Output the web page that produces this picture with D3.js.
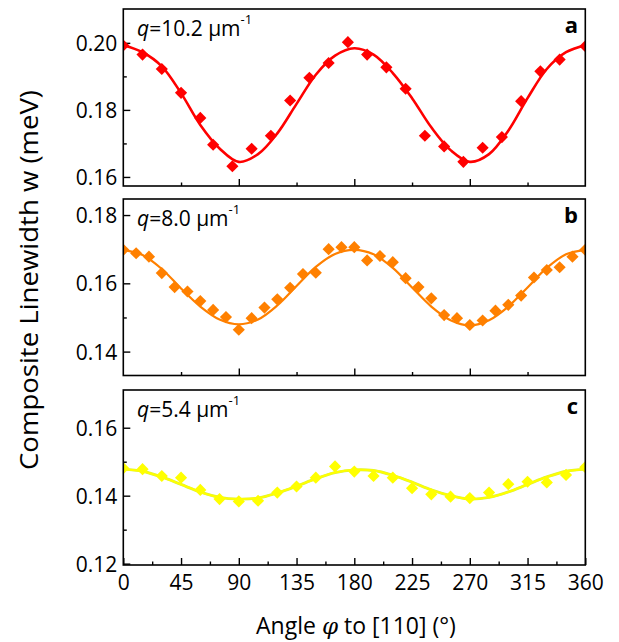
<!DOCTYPE html>
<html><head><meta charset="utf-8">
<script src="https://cdn.jsdelivr.net/npm/d3@7"></script>
<style>body{margin:0;background:#fff} text{font-family:"Open Sans",sans-serif;fill:#000}</style>
</head><body><svg id="chart" width="619" height="642"></svg>
<script>
// ---- data ----
const angleA = [0,15,30,45,60,70,85,100,115,130,145,160,175,190,205,220,235,250,265,280,295,310,325,340,360];
const widthA = [0.1992,0.1965,0.1922,0.1851,0.1776,0.1696,0.1632,0.1684,0.1723,0.1828,0.1896,0.1940,0.2002,0.1965,0.1927,0.1863,0.1723,0.1691,0.1645,0.1687,0.1719,0.1826,0.1915,0.1950,0.1990];

const angleB = [0,10,20,30,40,50,60,70,80,90,100,110,120,130,140,150,160,170,180,190,200,210,220,230,240,250,260,270,280,290,300,310,320,330,340,350,360];
const widthB = [0.1698,0.1688,0.1678,0.1630,0.1589,0.1576,0.1548,0.1522,0.1501,0.1464,0.1498,0.1529,0.1553,0.1587,0.1627,0.1631,0.1700,0.1706,0.1706,0.1667,0.1680,0.1662,0.1615,0.1589,0.1556,0.1507,0.1498,0.1478,0.1491,0.1520,0.1537,0.1564,0.1617,0.1639,0.1647,0.1678,0.1698];

const angleC = [0,15,30,45,60,75,90,105,120,135,150,165,180,195,210,225,240,255,270,285,300,315,330,345,360];
const widthC = [0.1481,0.1478,0.1458,0.1453,0.1417,0.1390,0.1383,0.1385,0.1409,0.1427,0.1453,0.1486,0.1471,0.1458,0.1453,0.1422,0.1404,0.1397,0.1393,0.1409,0.1434,0.1441,0.1439,0.1461,0.1484];

// fit curves
const fitAngle = [0,15,30,45,60,75,90,105,120,135,150,165,180,195,210,225,240,255,270,285,300,315,330,345,360];
const fitA = [0.1993,0.1972,0.1930,0.1850,0.1755,0.1685,0.1645,0.1668,0.1730,0.1818,0.1905,0.1962,0.1984,0.1965,0.1910,0.1835,0.1748,0.1680,0.1645,0.1668,0.1738,0.1835,0.1922,0.1972,0.1993];
const fitB = [0.1698,0.1683,0.1642,0.1585,0.1532,0.1494,0.1480,0.1494,0.1535,0.1592,0.1648,0.1686,0.1698,0.1685,0.1645,0.1588,0.1532,0.1492,0.1477,0.1492,0.1532,0.1588,0.1645,0.1685,0.1698];
const fitC = [0.1478,0.1472,0.1455,0.1433,0.1411,0.1395,0.1390,0.1393,0.1408,0.1428,0.1450,0.1468,0.1476,0.1474,0.1460,0.1440,0.1417,0.1400,0.1390,0.1395,0.1411,0.1433,0.1455,0.1472,0.1478];

const xTicksMajorAB = [90,180,270];
const xTicksMinorAB = [45,135,225,315];
const xTicksMajorC = [0,45,90,135,180,225,270,315,360];
const xTicksMinorC = [22.5,67.5,112.5,157.5,202.5,247.5,292.5,337.5];

const yTicksA = [0.16,0.18,0.20], yMinorA = [0.17,0.19];
const yTicksB = [0.14,0.16,0.18], yMinorB = [0.15,0.17];
const yTicksC = [0.12,0.14,0.16], yMinorC = [0.13,0.15];

const qLabels = ["10.2","8.0","5.4"];
const panelLetters = ["a","b","c"];

// ---- drawing ----
const svg = d3.select("#chart");
const X0 = 123.3, X1 = 585.3;
const x = d3.scaleLinear().domain([0,360]).range([X0,X1]);

const panels = [
  {ang:angleA, val:widthA, fit:fitA, color:"#ff0000", top:9, bot:186, dom:[0.1573,0.2101], yt:yTicksA, ym:yMinorA, xt:xTicksMajorAB, xm:xTicksMinorAB, lab:false},
  {ang:angleB, val:widthB, fit:fitB, color:"#ff8000", top:199, bot:375.5, dom:[0.1330,0.1847], yt:yTicksB, ym:yMinorB, xt:xTicksMajorAB, xm:xTicksMinorAB, lab:false},
  {ang:angleC, val:widthC, fit:fitC, color:"#ffff00", top:390, bot:565, dom:[0.1196,0.1711], yt:yTicksC, ym:yMinorC, xt:xTicksMajorC, xm:xTicksMinorC, lab:true}
];

panels.forEach((p,i)=>{
  const y = d3.scaleLinear().domain(p.dom).range([p.bot,p.top]);
  const g = svg.append("g");
  const cid = "clip"+i;
  svg.append("clipPath").attr("id",cid).append("rect")
    .attr("x",X0).attr("y",p.top).attr("width",X1-X0).attr("height",p.bot-p.top);

  // axes
  const xa = d3.axisBottom(x).tickValues(p.xt).tickSizeInner(-7).tickSizeOuter(0).tickPadding(10)
    .tickFormat(p.lab ? d3.format("d") : "");
  const xg = g.append("g").attr("transform",`translate(0,${p.bot})`).call(xa);
  const xma = d3.axisBottom(x).tickValues(p.xm).tickSizeInner(-3.5).tickSizeOuter(0).tickFormat("");
  const xmg = g.append("g").attr("transform",`translate(0,${p.bot})`).call(xma);
  const ya = d3.axisLeft(y).tickValues(p.yt).tickSizeInner(-7).tickSizeOuter(0).tickPadding(6)
    .tickFormat(d3.format(".2f"));
  const yg = g.append("g").attr("transform",`translate(${X0},0)`).call(ya);
  const yma = d3.axisLeft(y).tickValues(p.ym).tickSizeInner(-3.5).tickSizeOuter(0).tickFormat("");
  const ymg = g.append("g").attr("transform",`translate(${X0},0)`).call(yma);
  [xg,xmg,yg,ymg].forEach(a=>{
    a.select(".domain").remove();
    a.selectAll("line").attr("stroke","#000").attr("stroke-width",1.4);
    a.selectAll("text").style("font-size","21px").style("font-family","'Open Sans',sans-serif");
  });
  yg.selectAll("text").attr("dy","0.36em");

  // fit line
  const line = d3.line().x((d,k)=>x(fitAngle[k])).y(d=>y(d)).curve(d3.curveCatmullRom);
  const plot = g.append("g").attr("clip-path",`url(#${cid})`);
  if (i===2) {
    plot.append("path").datum(p.fit).attr("d",line).attr("fill","none")
      .attr("stroke","#d8f040").attr("stroke-width",2.9);
    plot.append("path").datum(p.fit).attr("d",line).attr("fill","none")
      .attr("stroke","#ffff00").attr("stroke-width",2.0);
  } else {
    plot.append("path").datum(p.fit).attr("d",line).attr("fill","none")
      .attr("stroke",p.color).attr("stroke-width",i===0?2.6:2.2);
  }

  // points
  const sym = d3.symbol().type(d3.symbolSquare).size(74);
  plot.selectAll("path.pt").data(p.val).enter().append("path").attr("class","pt")
    .attr("d",sym)
    .attr("transform",(d,k)=>`translate(${x(p.ang[k])},${y(d)}) rotate(45)`)
    .attr("fill",p.color);

  // frame
  g.append("rect").attr("x",X0).attr("y",p.top).attr("width",X1-X0).attr("height",p.bot-p.top)
    .attr("fill","none").attr("stroke","#000").attr("stroke-width",1.6);

  // q label
  const t = g.append("text").attr("x",137).attr("y",p.top+27).style("font-size","21px");
  t.append("tspan").text("q").style("font-style","italic");
  t.append("tspan").text("=" + qLabels[i] + " \u03bcm");
  t.append("tspan").text("-1").style("font-size","13px").attr("dy","-12");

  // panel letter
  g.append("text").attr("x",578).attr("y",p.top+24).attr("text-anchor","end")
    .style("font-size","22px").style("font-weight","bold").text(panelLetters[i]);
});

// axis titles
const xt = svg.append("text").attr("x",356).attr("y",634).attr("text-anchor","middle").style("font-size","23px");
xt.append("tspan").text("Angle ");
xt.append("tspan").text("\u03c6").style("font-style","italic").style("font-family","'DejaVu Serif',serif");
xt.append("tspan").text("  to [110] (\u00b0)");

svg.append("text").attr("transform","translate(38,280) rotate(-90)")
  .attr("text-anchor","middle").style("font-size","26px")
  .attr("textLength",380).attr("lengthAdjust","spacingAndGlyphs")
  .text("Composite Linewidth w (meV)");
</script></body></html>
